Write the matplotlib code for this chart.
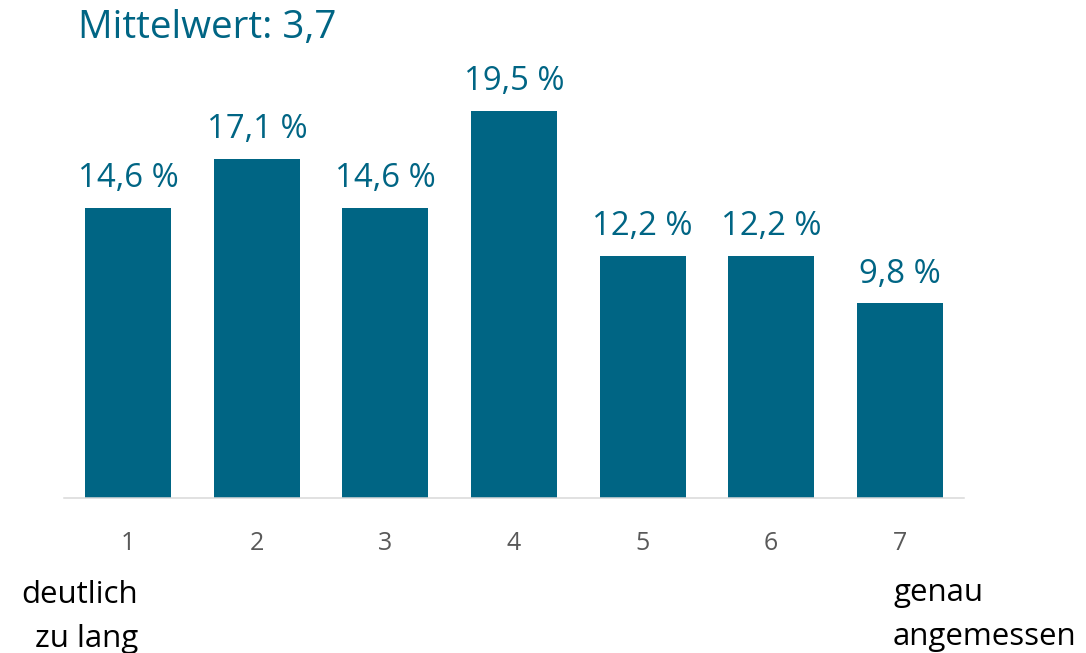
import matplotlib.pyplot as plt

plt.rcParams['font.family'] = ['Open Sans', 'DejaVu Sans']

# Antworten auf einer 7er-Skala
skala = [1, 2, 3, 4, 5, 6, 7]
anteile = [14.6, 17.1, 14.6, 19.5, 12.2, 12.2, 9.8]
mittelwert = 3.7
pol_links = ["deutlich", "zu lang"]
pol_rechts = ["genau", "angemessen"]

blau = '#006584'
W, H = 1086, 653

fig = plt.figure(figsize=(W / 100, H / 100), dpi=100)
# Achse in Pixelkoordinaten positionieren
ax = fig.add_axes([64 / W, 155 / H, 900 / W, 397 / H])

bars = ax.bar(skala, anteile, width=0.67, color=blau)
for b, v in zip(bars, anteile):
    ax.annotate(f"{v:.1f} %".replace('.', ','),
                (b.get_x() + b.get_width() / 2, v),
                xytext=(0, 15), textcoords='offset points',
                ha='center', va='baseline', fontsize=23.7, color=blau)

ax.set_xlim(0.5, 7.5)
ax.set_ylim(0, 20)
ax.set_xticks(skala)
ax.set_xticklabels([str(s) for s in skala])
ax.tick_params(axis='x', length=0, pad=23.5, labelsize=18, labelcolor='#595959')
ax.set_yticks([])
for s in ['top', 'left', 'right']:
    ax.spines[s].set_visible(False)
ax.spines['bottom'].set_color('#d9d9d9')
ax.spines['bottom'].set_linewidth(1.1)

fig.text(78 / W, 1 - 38 / H, f"Mittelwert: {mittelwert}".replace('.', ','),
         ha='left', va='baseline', fontsize=27.8, color=blau)

# Beschriftung der Skalenenden
for i, zeile in enumerate(pol_links):
    fig.text(138 / W, 1 - (603 + 44 * i) / H, zeile, ha='right',
             va='baseline', fontsize=22.5, color='black')
for i, zeile in enumerate(pol_rechts):
    fig.text(893 / W, 1 - (601 + 44 * i) / H, zeile, ha='left',
             va='baseline', fontsize=22.5, color='black')

fig.savefig('out.png', dpi=100)
